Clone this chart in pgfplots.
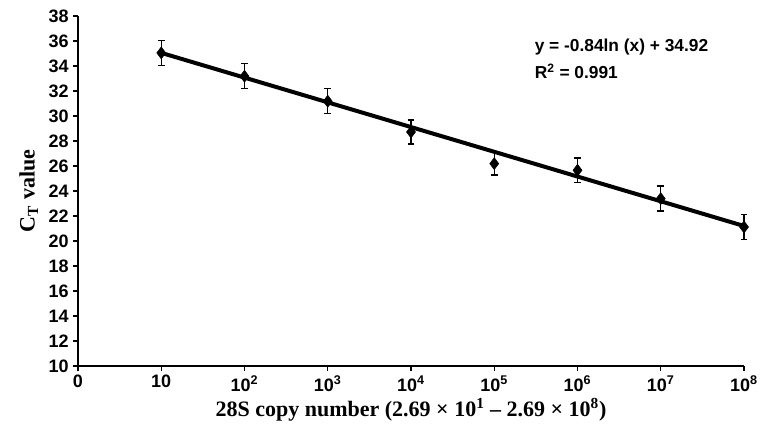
\documentclass[border=0pt]{standalone}
\usepackage{fontspec}
\setmainfont{Liberation Sans}
\newfontfamily\tnr{Liberation Serif}
\usepackage{pgfplots}
\pgfplotsset{compat=1.18}

\pgfplotstableread{
x   y      err
1   35.05  1.00
2   33.18  1.00
3   31.18  1.00
4   28.72  0.97
5   26.19  0.90
6   25.66  0.98
7   23.39  1.00
8   21.12  1.00
}\ctdata

\begin{document}
\begin{tikzpicture}
\begin{axis}[
  scale only axis,
  width=499.5pt, height=262.5pt,
  xmin=0, xmax=8, ymin=10, ymax=38,
  axis lines*=left,
  axis line style={-, line width=2.2pt},
  xtick={0,...,8},
  xticklabels={0, 10, 10\textsuperscript{2}, 10\textsuperscript{3}, 10\textsuperscript{4},
    10\textsuperscript{5}, 10\textsuperscript{6}, 10\textsuperscript{7}, 10\textsuperscript{8}},
  ytick={10,12,...,38},
  tick align=outside,
  major tick length=3.5pt,
  tick style={black, line width=1pt},
  /pgf/number format/assume math mode=true,
  tick label style={font=\fontsize{13.5}{15}\selectfont\bfseries},
  xlabel={\tnr\bfseries 28S copy number (2.69 × 10\textsuperscript{1} – 2.69 × 10\textsuperscript{8})},
  ylabel={\tnr\bfseries C\textsubscript{T} value},
  label style={font=\fontsize{16.5}{18}\selectfont},
  xlabel style={yshift=2pt},
  ylabel style={yshift=1pt},
  clip=false,
]
% trend line
\addplot[black, line width=3pt, line cap=round] coordinates {(1,35.05) (8,21.2)};
% data with error bars
\addplot[black, only marks, mark=diamond*, mark size=4.5pt,
  error bars/.cd, y dir=both, y explicit,
  error bar style={line width=1.1pt, black},
  error mark options={rotate=90, line width=1.1pt, mark size=2.6pt, black}]
  table[x=x, y=y, y error=err] {\ctdata};
\node[anchor=west, align=left, font=\fontsize{13}{20}\selectfont\bfseries]
  at (axis cs:5.43,34.6) {y = -0.84ln (x) + 34.92\\R\textsuperscript{2} = 0.991};
\end{axis}
\path (-58.5pt,-51.75pt) rectangle (522.75pt,274.5pt);
\end{tikzpicture}
\end{document}
